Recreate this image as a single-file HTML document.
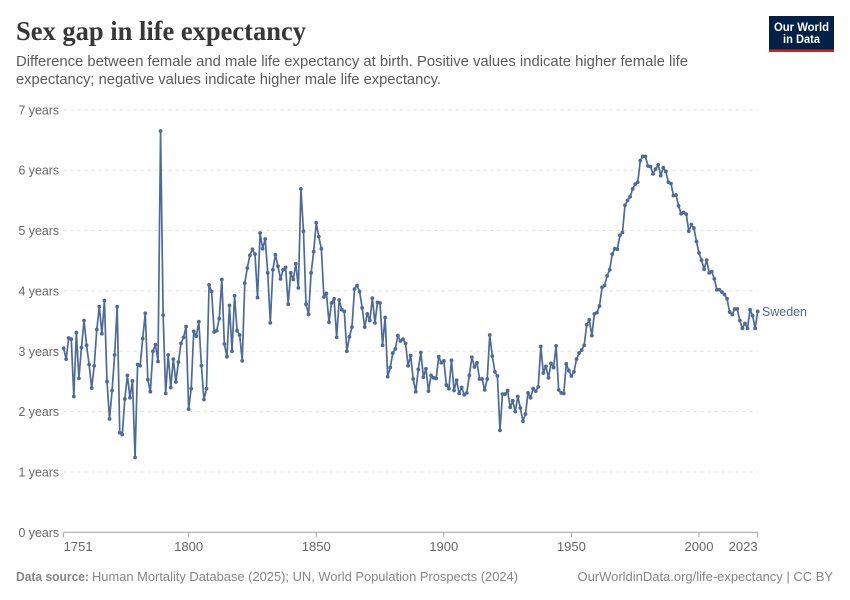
<!DOCTYPE html>
<html lang="en">
<head>
<meta charset="utf-8">
<title>Sex gap in life expectancy</title>
<style>
  html, body { margin: 0; padding: 0; background: #fff; }
  svg { display: block; font-family: "Liberation Sans", sans-serif; }
</style>
</head>
<body>
<svg id="chart" xmlns="http://www.w3.org/2000/svg" width="850" height="600" viewBox="0 0 850 600">
  <rect width="850" height="600" fill="#ffffff"/>
  <text x="16" y="40" font-family="'Liberation Serif', serif" font-weight="700" font-size="27.5" fill="#373737" textLength="290" lengthAdjust="spacingAndGlyphs">Sex gap in life expectancy</text>
  <text x="16" y="66" font-size="14.5" fill="#5b5b5b" textLength="672" lengthAdjust="spacingAndGlyphs">Difference between female and male life expectancy at birth. Positive values indicate higher female life</text>
  <text x="16" y="84" font-size="14.5" fill="#5b5b5b" textLength="425" lengthAdjust="spacingAndGlyphs">expectancy; negative values indicate higher male life expectancy.</text>

  <g>
    <rect x="769" y="16" width="65" height="36" fill="#002147"/>
    <rect x="769" y="49.5" width="65" height="2.5" fill="#ce261e"/>
    <text x="801.5" y="31" text-anchor="middle" font-size="12" font-weight="700" fill="#ffffff" textLength="55" lengthAdjust="spacingAndGlyphs">Our World</text>
    <text x="801.5" y="43" text-anchor="middle" font-size="12" font-weight="700" fill="#ffffff" textLength="37" lengthAdjust="spacingAndGlyphs">in Data</text>
  </g>

  <g id="y-grid"></g>
  <g id="x-axis"></g>
  <g id="series"></g>

  <text id="series-label" x="762" font-size="12.5" fill="#4c6a9c" textLength="45" lengthAdjust="spacingAndGlyphs">Sweden</text>

  <text x="16" y="581" font-size="12.5" font-weight="700" fill="#858585" textLength="73" lengthAdjust="spacingAndGlyphs">Data source:</text>
  <text x="92" y="581" font-size="12.5" fill="#858585" textLength="426" lengthAdjust="spacingAndGlyphs">Human Mortality Database (2025); UN, World Population Prospects (2024)</text>
  <text x="577.5" y="581" font-size="12.5" fill="#858585" textLength="255.5" lengthAdjust="spacingAndGlyphs">OurWorldinData.org/life-expectancy | CC BY</text>
</svg>

<script>
const firstYear = 1751;
const gapValues = [
  3.05,2.87,3.22,3.20,2.25,3.31,2.55,3.06,3.51,3.10,
  2.78,2.39,2.76,3.36,3.74,3.29,3.84,2.50,1.88,2.35,
  2.94,3.74,1.65,1.62,2.21,2.60,2.23,2.51,1.24,2.78,
  2.76,3.21,3.63,2.53,2.33,3.00,3.11,2.83,6.65,3.60,
  2.30,2.94,2.40,2.87,2.49,2.82,3.13,3.23,3.41,2.04,
  2.38,3.33,3.25,3.49,2.76,2.20,2.38,4.10,3.99,3.32,
  3.34,3.54,4.19,3.12,2.91,3.76,3.00,3.92,3.34,3.27,
  2.84,4.13,4.38,4.59,4.69,4.61,3.89,4.96,4.70,4.86,
  4.30,3.47,4.35,4.60,4.41,4.20,4.35,4.39,3.78,4.30,
  4.19,4.45,4.05,5.69,4.99,3.78,3.61,4.30,4.65,5.13,
  4.90,4.70,3.90,3.96,3.48,3.80,3.87,3.23,3.85,3.69,
  3.66,3.00,3.24,3.40,4.03,4.09,3.99,3.72,3.40,3.62,
  3.51,3.88,3.47,3.81,3.80,3.10,3.56,2.58,2.73,2.97,
  3.04,3.26,3.17,3.20,3.13,2.76,2.93,2.54,2.33,2.70,
  2.98,2.57,2.71,2.34,2.60,2.56,2.55,2.91,2.81,2.84,
  2.44,2.38,2.85,2.35,2.52,2.30,2.40,2.28,2.31,2.60,
  2.90,2.74,2.81,2.54,2.54,2.36,2.54,3.27,2.92,2.66,
  2.59,1.69,2.29,2.29,2.35,2.07,2.18,2.00,2.25,2.06,
  1.84,1.96,2.31,2.23,2.38,2.34,2.41,3.08,2.64,2.75,
  2.56,2.80,2.73,3.09,2.36,2.31,2.30,2.79,2.68,2.59,
  2.66,2.87,2.97,3.02,3.10,3.44,3.52,3.26,3.62,3.64,
  3.75,4.06,4.09,4.25,4.35,4.61,4.70,4.69,4.92,4.97,
  5.42,5.50,5.56,5.69,5.77,5.80,6.16,6.23,6.23,6.07,
  6.06,5.94,6.02,6.09,5.91,6.04,5.98,5.80,5.78,5.58,
  5.59,5.41,5.28,5.30,5.27,4.99,5.10,5.04,4.82,4.63,
  4.51,4.36,4.51,4.30,4.32,4.20,4.02,4.02,3.98,3.94,
  3.87,3.65,3.61,3.70,3.70,3.51,3.38,3.46,3.38,3.69,
  3.59,3.38,3.66
];
const yTicks = [0, 1, 2, 3, 4, 5, 6, 7];
const yTickSuffix = " years";
const xTicks = [1751, 1800, 1850, 1900, 1950, 2000, 2023];

const SVG_NS = "http://www.w3.org/2000/svg";
const plot = { left: 63.6, right: 757.7, bottom: 532.3, top: 109.9 };
const lastYear = 2023;
const maxValue = 7;

function xScale(year) {
  return plot.left + (year - firstYear) / (lastYear - firstYear) * (plot.right - plot.left);
}
function yScale(value) {
  return plot.bottom - value / maxValue * (plot.bottom - plot.top);
}
function make(tag, attrs, parent, text) {
  const el = document.createElementNS(SVG_NS, tag);
  for (const k in attrs) el.setAttribute(k, attrs[k]);
  if (text !== undefined) el.textContent = text;
  parent.appendChild(el);
  return el;
}

const gridGroup = document.getElementById("y-grid");
yTicks.forEach(function (t) {
  const y = yScale(t);
  if (t > 0) {
    const line = make("line", { x1: plot.left, x2: plot.right, y1: y, y2: y, stroke: "#dddddd", "stroke-width": 1, "stroke-dasharray": "3,4" }, gridGroup);
    
    
  }
  const label = make("text", { x: 59, y: y + 4.5, "text-anchor": "end", "font-size": 12.5, fill: "#666666", textLength: 40.5, lengthAdjust: "spacingAndGlyphs" }, gridGroup, t + yTickSuffix);
  
  
});

const axisGroup = document.getElementById("x-axis");
const axisLine = make("line", { x1: plot.left, x2: plot.right, y1: plot.bottom, y2: plot.bottom, stroke: "#a1a1a1", "stroke-width": 1 }, axisGroup);


xTicks.forEach(function (year, i) {
  const x = xScale(year);
  const tick = make("line", { x1: x, x2: x, y1: plot.bottom, y2: plot.bottom + 5, stroke: "#a1a1a1", "stroke-width": 1 }, axisGroup);
  
  
  const first = i === 0;
  const last = i === xTicks.length - 1;
  const label = make("text", {
    x: x,
    y: 551,
    "text-anchor": first ? "start" : (last ? "end" : "middle"),
    "font-size": 12.5,
    fill: "#666666",
    textLength: 29,
    lengthAdjust: "spacingAndGlyphs"
  }, axisGroup, String(year));
  
  
});

const seriesGroup = document.getElementById("series");
const pathData = gapValues.map(function (v, i) {
  return (i ? "L" : "M") + xScale(firstYear + i).toFixed(2) + " " + yScale(v).toFixed(2);
}).join(" ");
const seriesLine = make("path", { d: pathData, fill: "none", stroke: "#4c6a9c", "stroke-width": 1.7, "stroke-linejoin": "round" }, seriesGroup);


gapValues.forEach(function (v, i) {
  const dot = make("circle", { cx: xScale(firstYear + i), cy: yScale(v), r: 1.9, fill: "#4c6a9c" }, seriesGroup);
  
  
});

document.getElementById("series-label").setAttribute("y", yScale(gapValues[gapValues.length - 1]) + 4.5);
</script>
</body>
</html>
